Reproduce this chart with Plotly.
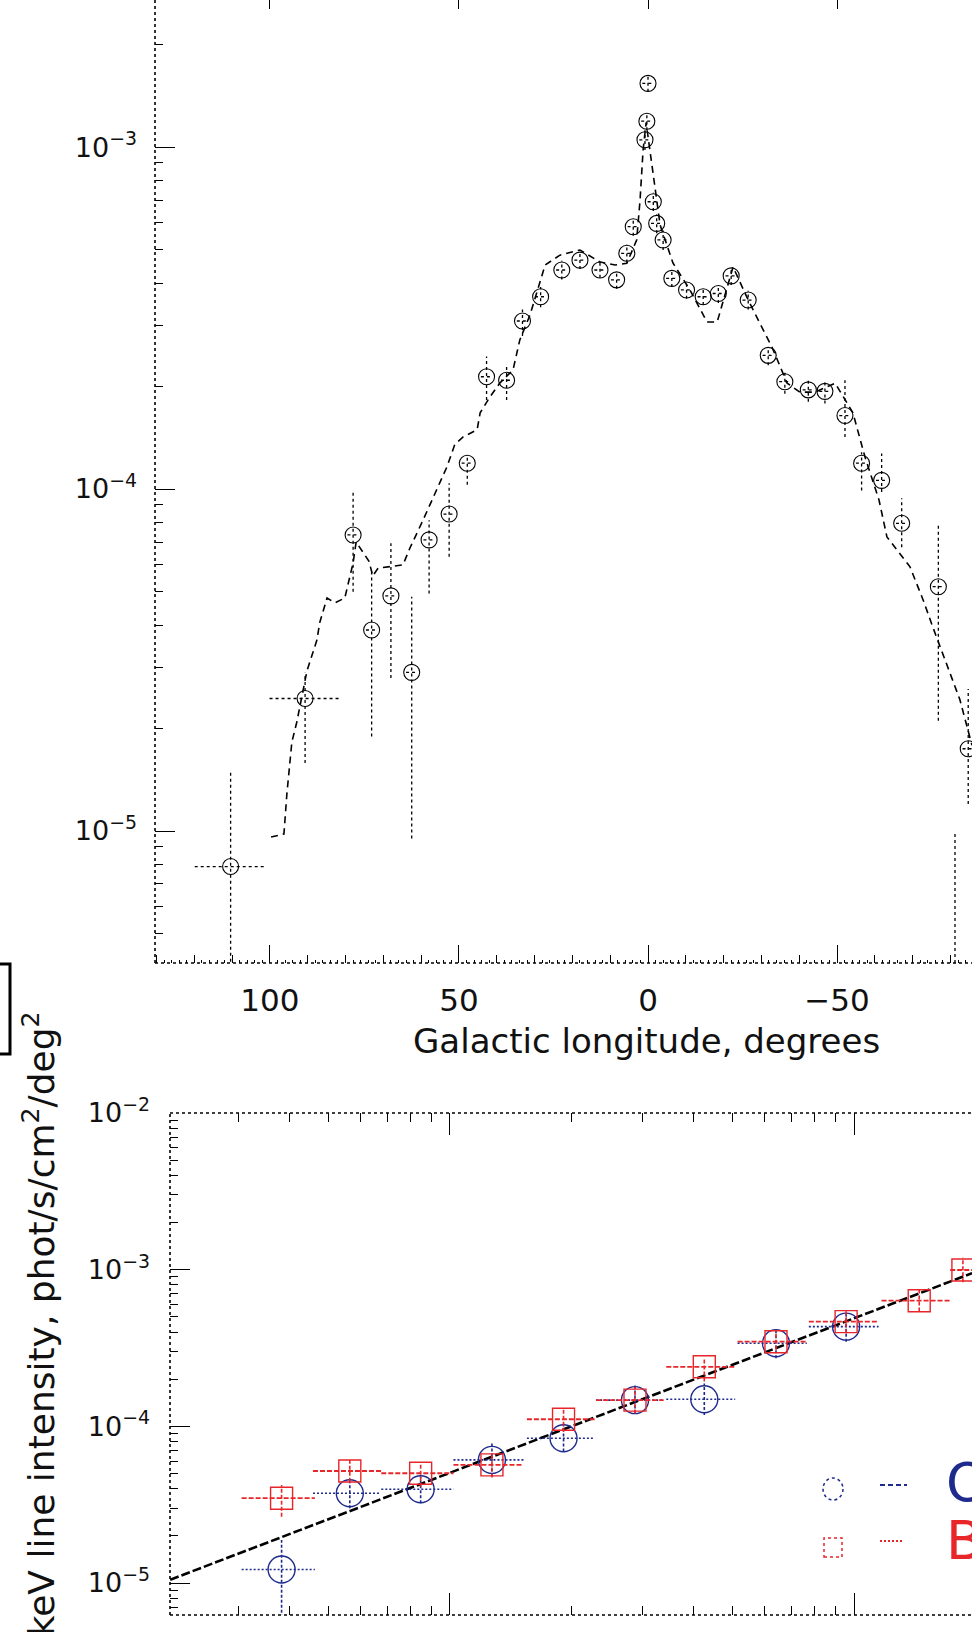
import plotly.graph_objects as go

W, H = 972, 1632
FONT = "DejaVu Sans, Liberation Sans, Arial, sans-serif"
BLUE = "#1e2a8c"
RED = "#e8262a"

# ---------------- top panel: longitude profile ----------------
lon = [110.4, 90.7, 78.0, 73.1, 68.0, 62.5, 57.9, 52.6, 47.8, 42.7, 37.4, 33.2, 28.4,
       22.8, 18.0, 12.7, 8.3, 5.6, 3.9, 0.8, 0.3, 0.0, -1.4, -2.3, -4.0, -6.3, -10.2,
       -14.6, -18.6, -22.0, -26.5, -31.8, -36.2, -42.4, -46.8, -52.1, -56.5, -61.8,
       -67.1, -76.8, -81.2, -84.7]
flux = [7.87e-6, 2.44e-5, 7.34e-5, 3.87e-5, 4.87e-5, 2.91e-5, 7.1e-5, 8.45e-5, 1.19e-4,
        2.13e-4, 2.08e-4, 3.1e-4, 3.65e-4, 4.37e-4, 4.67e-4, 4.37e-4, 4.09e-4, 4.89e-4,
        5.85e-4, 1.05e-3, 1.19e-3, 1.535e-3, 6.92e-4, 5.98e-4, 5.35e-4, 4.13e-4, 3.82e-4,
        3.65e-4, 3.73e-4, 4.2e-4, 3.57e-4, 2.46e-4, 2.06e-4, 1.95e-4, 1.93e-4, 1.64e-4,
        1.19e-4, 1.06e-4, 7.94e-5, 5.18e-5, 3.0e-6, 1.74e-5]
flux_lo = [3.0e-6, 1.58e-5, 5.01e-5, 1.89e-5, 2.8e-5, 9.5e-6, 4.95e-5, 6.34e-5, 1.03e-4,
           1.82e-4, 1.82e-4, 2.8e-4, 3.4e-4, 4.1e-4, 4.4e-4, 4.15e-4, 3.85e-4, 4.6e-4,
           5.5e-4, 9.8e-4, 1.12e-3, 1.45e-3, 6.5e-4, 5.6e-4, 5.0e-4, 3.9e-4, 3.6e-4,
           3.45e-4, 3.5e-4, 3.95e-4, 3.35e-4, 2.3e-4, 1.9e-4, 1.8e-4, 1.78e-4, 1.42e-4,
           9.9e-5, 9.8e-5, 6.76e-5, 2.1e-5, 1.0e-6, 1.2e-5]
flux_hi = [1.48e-5, 2.9e-5, 9.75e-5, 5.8e-5, 6.94e-5, 4.84e-5, 8.1e-5, 1.04e-4, 1.257e-4,
           2.44e-4, 2.28e-4, 3.35e-4, 3.9e-4, 4.65e-4, 4.95e-4, 4.6e-4, 4.3e-4, 5.2e-4,
           6.2e-4, 1.12e-3, 1.26e-3, 1.62e-3, 7.35e-4, 6.35e-4, 5.7e-4, 4.35e-4, 4.05e-4,
           3.85e-4, 3.95e-4, 4.45e-4, 3.8e-4, 2.6e-4, 2.2e-4, 2.1e-4, 2.08e-4, 2.08e-4,
           1.28e-4, 1.27e-4, 9.4e-5, 7.96e-5, 1.0e-5, 2.6e-5]
lon_err = [9.5, 9.4] + [1.5] * 40

model_lon = [99.7, 96.3, 95.5, 94.7, 94.2, 92.9, 90.2, 87.6, 86.8, 84.9, 82.8, 80.2, 78.0,
             77.2, 73.8, 72.8, 71.4, 64.8, 63.0, 59.5, 57.7, 53.2, 51.1, 48.9, 45.2, 44.4,
             41.8, 39.2, 35.7, 33.9, 31.2, 29.4, 27.2, 23.3, 18.0, 12.7, 8.7, 5.6, 3.0, 2.1,
             1.3, 0.5, -0.5, -1.6, -3.2, -6.6, -11.1, -15.6, -18.3, -22.5, -26.5, -29.6,
             -32.8, -36.8, -40.2, -44.2, -49.5, -54.2, -57.4, -61.1, -63.2, -69.3, -72.8,
             -75.4, -79.4, -82.5, -85.7]
model_flux = [9.6e-6, 9.8e-6, 1.29e-5, 1.61e-5, 1.82e-5, 2.08e-5, 2.94e-5, 3.61e-5, 4.08e-5,
              4.8e-5, 4.65e-5, 4.8e-5, 6.08e-5, 7.0e-5, 6.15e-5, 5.57e-5, 5.87e-5, 6.0e-5,
              6.71e-5, 8.11e-5, 8.97e-5, 1.16e-4, 1.35e-4, 1.42e-4, 1.49e-4, 1.67e-4, 1.86e-4,
              2.04e-4, 2.23e-4, 2.73e-4, 3.23e-4, 3.74e-4, 4.52e-4, 4.83e-4, 5.0e-4, 4.61e-4,
              4.52e-4, 4.57e-4, 5.35e-4, 7.0e-4, 9.8e-4, 1.18e-3, 9.8e-4, 8.11e-4, 5.92e-4,
              4.58e-4, 3.82e-4, 3.08e-4, 3.08e-4, 4.46e-4, 3.57e-4, 3.05e-4, 2.6e-4, 2.04e-4,
              1.92e-4, 1.92e-4, 2.04e-4, 1.67e-4, 1.24e-4, 9.29e-5, 7.24e-5, 5.92e-5, 4.73e-5,
              3.93e-5, 3.0e-5, 2.42e-5, 1.78e-5]

top_xticks = [100, 50, 0, -50]
top_xticklabels = ["100", "50", "0", "\u221250"]
top_yticks = [1e-5, 1e-4, 1e-3]
top_yticklabels = ["10<sup>\u22125</sup>", "10<sup>\u22124</sup>", "10<sup>\u22123</sup>"]

# ---------------- bottom panel: intensity comparison ----------------
bin_x = [0.383, 0.565, 0.846, 1.27, 1.91, 2.87, 4.26, 6.41, 9.56, 14.5, 18.6]
bin_x_lo = [0.305, 0.458, 0.676, 1.02, 1.55, 2.30, 3.43, 5.15, 7.73, 11.7, 17.3]
bin_x_hi = [0.463, 0.675, 1.02, 1.52, 2.28, 3.38, 5.08, 7.64, 11.5, 17.4, 22.0]

o_val = [1.22e-5, 3.74e-5, 3.97e-5, 6.11e-5, 8.39e-5, 1.47e-4, 1.49e-4, 3.39e-4, 4.33e-4]
o_lo = [6.0e-6, 3.0e-5, 3.23e-5, 4.78e-5, 6.9e-5, 1.21e-4, 1.18e-4, 2.72e-4, 3.47e-4]
o_hi = [1.88e-5, 4.55e-5, 4.78e-5, 7.8e-5, 1.05e-4, 1.84e-4, 1.88e-4, 4.22e-4, 5.4e-4]

b_val = [3.48e-5, 5.19e-5, 5.02e-5, 5.68e-5, 1.11e-4, 1.47e-4, 2.40e-4, 3.47e-4, 4.66e-4,
         6.34e-4, 9.95e-4]
b_lo = [2.65e-5, 4.43e-5, 4.12e-5, 4.71e-5, 9.25e-5, 1.21e-4, 1.93e-4, 3.08e-4, 3.93e-4,
        5.4e-4, 8.3e-4]
b_hi = [4.23e-5, 6.1e-5, 5.87e-5, 6.73e-5, 1.28e-4, 1.79e-4, 2.72e-4, 4.02e-4, 5.53e-4,
        7.6e-4, 1.19e-3]

fit_x = [0.203, 19.6]
fit_y = [1.05e-5, 9.5e-4]

bot_xticks = [1, 10]
bot_yticks = [1e-5, 1e-4, 1e-3, 1e-2]
bot_yticklabels = ["10<sup>\u22125</sup>", "10<sup>\u22124</sup>", "10<sup>\u22123</sup>",
                   "10<sup>\u22122</sup>"]

legend_names = ["OSSE", "BATSE"]
y_title = "511 keV line intensity, phot/s/cm<sup>2</sup>/deg<sup>2</sup>"
x_title = "Galactic longitude, degrees"


def px(x):
    return x / W


def py(y):
    return 1 - y / H


def vsegs(xs, lo, hi):
    X, Y = [], []
    for x, a, b in zip(xs, lo, hi):
        X += [x, x, None]
        Y += [a, b, None]
    return X, Y


def hsegs(lo, hi, ys):
    X, Y = [], []
    for a, b, y in zip(lo, hi, ys):
        X += [a, b, None]
        Y += [y, y, None]
    return X, Y


fig = go.Figure()

# top panel error bars
vx, vy = vsegs(lon, flux_lo, flux_hi)
fig.add_trace(go.Scatter(x=vx, y=vy, mode="lines", xaxis="x", yaxis="y",
                         line=dict(color="black", width=1.3, dash="dot"),
                         showlegend=False, hoverinfo="skip"))
hx, hy = hsegs([l + e for l, e in zip(lon, lon_err)], [l - e for l, e in zip(lon, lon_err)], flux)
fig.add_trace(go.Scatter(x=hx, y=hy, mode="lines", xaxis="x", yaxis="y",
                         line=dict(color="black", width=1.3, dash="dot"),
                         showlegend=False, hoverinfo="skip"))
# model
fig.add_trace(go.Scatter(x=model_lon, y=model_flux, mode="lines", xaxis="x", yaxis="y",
                         line=dict(color="black", width=1.6, dash="7px,5px"),
                         showlegend=False, hoverinfo="skip"))
# data markers
fig.add_trace(go.Scatter(x=lon, y=flux, mode="markers", xaxis="x", yaxis="y",
                         marker=dict(symbol="circle-open", size=16, color="black",
                                     line=dict(width=1.1)),
                         showlegend=False))
# dummy traces for overlay tick axes
fig.add_trace(go.Scatter(x=[None], y=[None], xaxis="x3", yaxis="y", showlegend=False))
fig.add_trace(go.Scatter(x=[None], y=[None], xaxis="x4", yaxis="y", showlegend=False))

# bottom panel fit line
fig.add_trace(go.Scatter(x=fit_x, y=fit_y, mode="lines", xaxis="x2", yaxis="y2",
                         line=dict(color="black", width=2.6, dash="9px,3px"),
                         showlegend=False, hoverinfo="skip"))

n_o = len(o_val)
# blue series
vx, vy = vsegs(bin_x[:n_o], o_lo, o_hi)
fig.add_trace(go.Scatter(x=vx, y=vy, mode="lines", xaxis="x2", yaxis="y2",
                         line=dict(color=BLUE, width=1.6, dash="3px,2px"),
                         showlegend=False, hoverinfo="skip"))
hx, hy = hsegs(bin_x_lo[:n_o], bin_x_hi[:n_o], o_val)
fig.add_trace(go.Scatter(x=hx, y=hy, mode="lines", xaxis="x2", yaxis="y2",
                         line=dict(color=BLUE, width=1.6, dash="2px,2px"),
                         showlegend=False, hoverinfo="skip"))
fig.add_trace(go.Scatter(x=bin_x[:n_o], y=o_val, mode="markers", xaxis="x2", yaxis="y2",
                         marker=dict(symbol="circle-open", size=27, color=BLUE,
                                     line=dict(width=1.4)),
                         showlegend=False))
# red series
vx, vy = vsegs(bin_x, b_lo, b_hi)
fig.add_trace(go.Scatter(x=vx, y=vy, mode="lines", xaxis="x2", yaxis="y2",
                         line=dict(color=RED, width=1.6, dash="4px,2px"),
                         showlegend=False, hoverinfo="skip"))
hx, hy = hsegs(bin_x_lo, bin_x_hi, b_val)
fig.add_trace(go.Scatter(x=hx, y=hy, mode="lines", xaxis="x2", yaxis="y2",
                         line=dict(color=RED, width=1.8, dash="5px,2px"),
                         showlegend=False, hoverinfo="skip"))
fig.add_trace(go.Scatter(x=bin_x, y=b_val, mode="markers", xaxis="x2", yaxis="y2",
                         marker=dict(symbol="square-open", size=22, color=RED,
                                     line=dict(width=1.4)),
                         showlegend=False))

tickfont = dict(family=FONT, size=31, color="#111")
ytickfont = dict(family=FONT, size=27, color="#111")
top_range_x = [130.4, -85.7]
axis_common = dict(showgrid=False, zeroline=False, showline=False, tickcolor="black",
                   tickwidth=1, automargin=False)

fig.update_layout(
    width=W, height=H,
    margin=dict(l=0, r=0, t=0, b=0, pad=0, autoexpand=False),
    paper_bgcolor="white", plot_bgcolor="rgba(0,0,0,0)",
    showlegend=False,
    xaxis=dict(domain=[px(155), 1], range=top_range_x, anchor="y", ticks="inside",
               tickmode="array", tickvals=top_xticks, ticktext=top_xticklabels,
               ticklen=18, tickfont=tickfont, ticklabelstandoff=16,
               minor=dict(tickmode="linear", tick0=0, dtick=2, ticks="inside", ticklen=3,
                          tickcolor="black"),
               **axis_common),
    xaxis3=dict(overlaying="x", anchor="y", side="bottom", range=top_range_x,
                tickmode="linear", tick0=0, dtick=10, ticks="inside", ticklen=8,
                showticklabels=False, **axis_common),
    xaxis4=dict(overlaying="x", anchor="y", side="top", range=top_range_x,
                tickmode="array", tickvals=top_xticks, ticks="inside", ticklen=9,
                showticklabels=False, **axis_common),
    yaxis=dict(domain=[py(963), 1], type="log", range=[-5.386, -2.570], anchor="x",
               tickmode="array", tickvals=top_yticks, ticktext=top_yticklabels,
               ticks="inside", ticklen=20, tickfont=ytickfont, ticklabelstandoff=17,
               minor=dict(dtick="D1", ticks="inside", ticklen=8, tickcolor="black"),
               **axis_common),
    xaxis2=dict(domain=[px(170), 1], type="log", range=[-0.693, 1.292], anchor="y2",
                tickmode="array", tickvals=bot_xticks, ticks="inside", ticklen=22,
                showticklabels=False, mirror="ticks",
                minor=dict(dtick="D1", ticks="inside", ticklen=9, tickcolor="black"),
                **axis_common),
    yaxis2=dict(domain=[py(1615), py(1113)], type="log", range=[-5.204, -2.0], anchor="x2",
                tickmode="array", tickvals=bot_yticks, ticktext=bot_yticklabels,
                ticks="inside", ticklen=20, tickfont=ytickfont, ticklabelstandoff=19,
                minor=dict(dtick="D1", ticks="inside", ticklen=8, tickcolor="black"),
                **axis_common),
)

frame = dict(color="black", width=1.6, dash="dot")
shapes = [
    # top panel frame (left, bottom)
    dict(type="line", xref="x domain", yref="y domain", x0=0, x1=0, y0=0, y1=1, line=frame),
    dict(type="line", xref="x domain", yref="y domain", x0=0, x1=1, y0=0, y1=0, line=frame),
    # bottom panel frame (left, bottom, top)
    dict(type="line", xref="x2 domain", yref="y2 domain", x0=0, x1=0, y0=0, y1=1, line=frame),
    dict(type="line", xref="x2 domain", yref="y2 domain", x0=0, x1=1, y0=0, y1=0, line=frame),
    dict(type="line", xref="x2 domain", yref="y2 domain", x0=0, x1=1, y0=1, y1=1, line=frame),
    # legend symbols
    dict(type="circle", xref="paper", yref="paper", x0=px(823), x1=px(843), y0=py(1500),
         y1=py(1478), line=dict(color=BLUE, width=1.5, dash="dot")),
    dict(type="line", xref="paper", yref="paper", x0=px(880), x1=px(907), y0=py(1485),
         y1=py(1485), line=dict(color=BLUE, width=2, dash="5px,3px")),
    dict(type="rect", xref="paper", yref="paper", x0=px(824), x1=px(842), y0=py(1557),
         y1=py(1538), line=dict(color=RED, width=1.5, dash="dot")),
    dict(type="line", xref="paper", yref="paper", x0=px(880), x1=px(904), y0=py(1541),
         y1=py(1541), line=dict(color=RED, width=2, dash="2px,2px")),
    # bracket at far left
    dict(type="path", xref="paper", yref="paper",
         path=f"M 0,{py(964)} L {px(10)},{py(964)} L {px(10)},{py(1054)} L 0,{py(1054)}",
         line=dict(color="black", width=3)),
]
fig.update_layout(shapes=shapes)

annotations = [
    dict(text=x_title, x=px(646), y=py(1041), xref="paper", yref="paper",
         xanchor="center", yanchor="middle", showarrow=False,
         font=dict(family=FONT, size=34, color="#111")),
    dict(text=y_title, x=px(38), y=py(1010), xref="paper", yref="paper",
         xanchor="center", yanchor="top", textangle=-90, showarrow=False,
         font=dict(family=FONT, size=36, color="#111")),
    dict(text=legend_names[0], x=px(944), y=py(1482), xref="paper", yref="paper",
         xanchor="left", yanchor="middle", showarrow=False,
         font=dict(family=FONT, size=54, color=BLUE)),
    dict(text=legend_names[1], x=px(944), y=py(1540), xref="paper", yref="paper",
         xanchor="left", yanchor="middle", showarrow=False,
         font=dict(family=FONT, size=54, color=RED)),
]
fig.update_layout(annotations=annotations)

fig.write_html("out.html")
